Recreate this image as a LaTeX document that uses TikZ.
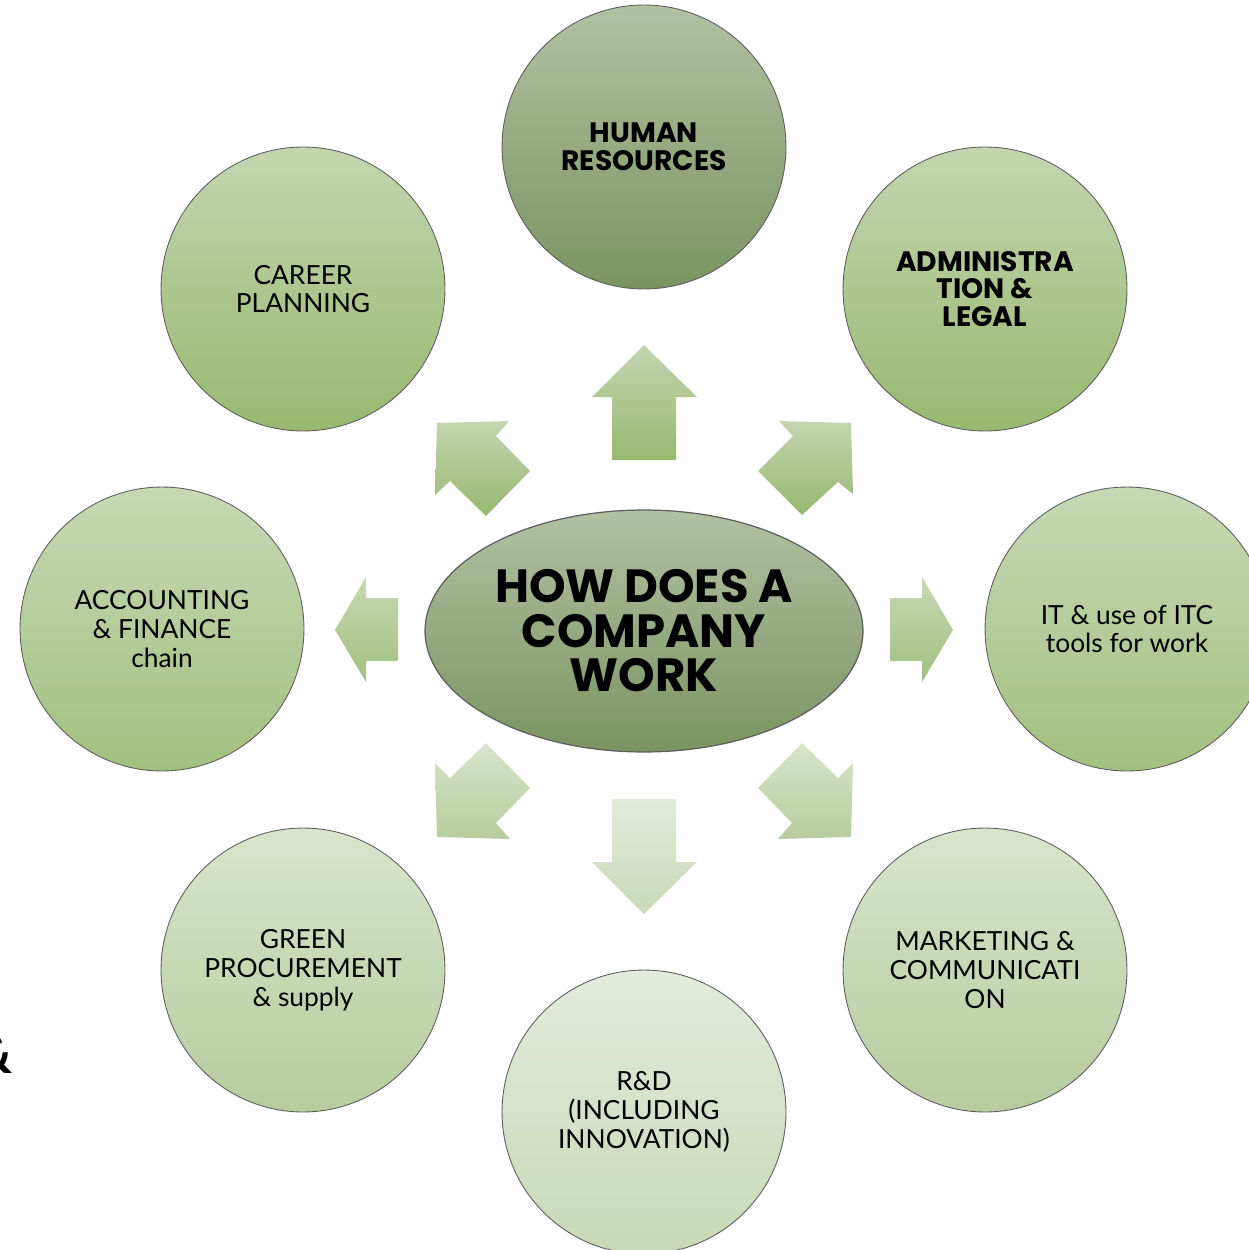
\documentclass[tikz,border=0pt]{standalone}
\usepackage{fontspec}
\setmainfont{Lato}
\newfontfamily\heavyfont{Poppins}
\usepackage{tikz}
\usetikzlibrary{shapes.geometric,positioning}

\definecolor{hrtop}{HTML}{B2C0A3}
\definecolor{hrbot}{HTML}{7A9461}
\definecolor{midtop}{HTML}{C3D5B0}
\definecolor{midbot}{HTML}{98B86F}
\definecolor{sidetop}{HTML}{C7D8B5}
\definecolor{sidebot}{HTML}{A2C07F}
\definecolor{lowtop}{HTML}{D8E4CC}
\definecolor{lowbot}{HTML}{B6CC9E}
\definecolor{rndtop}{HTML}{E3EBDB}
\definecolor{rndbot}{HTML}{C8D8B7}
\definecolor{rimgray}{HTML}{5E5E5E}

\begin{document}
\begin{tikzpicture}[x=0.02cm, y=-0.02cm,
  topic/.style = {shape = circle, draw = rimgray, line width = 0.5pt, minimum size = 5.68cm,
                  inner sep = 0pt, align = center, font = \fontsize{15}{16.4}\selectfont},
  boldtopic/.style = {topic, font = \heavyfont\fontsize{16}{15.8}\selectfont\bfseries},
  hub/.style = {shape = ellipse, draw = rimgray, line width = 0.7pt, minimum width = 8.76cm,
                minimum height = 4.84cm, inner sep = 0pt, align = center,
                font = \heavyfont\fontsize{26.5}{25.3}\selectfont\bfseries},
  flow/.style = {draw = none}]
\useasboundingbox (0,0) rectangle (1248,1250);

% the hub and the eight topics round it
\node[hub, top color = hrtop, bottom color = hrbot] (hub) at (644,631) {HOW DOES A\\COMPANY\\WORK};
\node[boldtopic, top color = hrtop, bottom color = hrbot] (hr) at (644,147) {HUMAN\\RESOURCES};
\node[boldtopic, top color = midtop, bottom color = midbot] (admin) at (985,289) {ADMINISTRA\\TION \&\\LEGAL};
\node[topic, top color = sidetop, bottom color = sidebot] (it) at (1127,629) {IT \& use of ITC\\tools for work};
\node[topic, top color = lowtop, bottom color = lowbot] (mkt) at (985,970) {MARKETING \&\\COMMUNICATI\\ON};
\node[topic, top color = rndtop, bottom color = rndbot] (rnd) at (644,1112) {R\&D\\(INCLUDING\\INNOVATION)};
\node[topic, top color = lowtop, bottom color = lowbot] (green) at (303,970) {GREEN\\PROCUREMENT\\\& supply};
\node[topic, top color = sidetop, bottom color = sidebot] (acc) at (162,629) {ACCOUNTING\\\& FINANCE\\chain};
\node[topic, top color = midtop, bottom color = midbot] (career) at (303,289) {CAREER\\PLANNING};

\node[anchor = base east, inner sep = 0pt, font = \fontsize{30}{30}\selectfont\bfseries] (stray) at (13,1073) {\&};

% block arrows
\begin{scope}[flow]
\path[top color = midtop, bottom color = midbot]
  (612,460) -- (612,397) -- (592,397) -- (644,345) -- (697,397) -- (676,397) -- (676,460) -- cycle;
\path[top color = midtop, bottom color = midbot]
  (758,471) -- (793,436) -- (779,421) -- (851,423) -- (853,494) -- (838,482) -- (802,515) -- cycle;
\path[top color = midtop, bottom color = midbot]
  (530,471) -- (496,436) -- (509,421) -- (437,423) -- (435,495) -- (450,481) -- (486,516) -- cycle;
\path[top color = sidetop, bottom color = sidebot]
  (890,598) -- (922,598) -- (922,577) -- (953,630) -- (922,682) -- (922,661) -- (890,661) -- cycle;
\path[top color = sidetop, bottom color = sidebot]
  (398,598) -- (366,598) -- (366,577) -- (335,630) -- (366,682) -- (366,661) -- (398,661) -- cycle;
\path[top color = lowtop, bottom color = lowbot]
  (530,788) -- (486,743) -- (450,778) -- (435,763) -- (437,837) -- (510,839) -- (496,823) -- cycle;
\path[top color = lowtop, bottom color = lowbot]
  (758,788) -- (802,743) -- (838,778) -- (853,763) -- (851,837) -- (778,839) -- (792,823) -- cycle;
\path[top color = rndtop, bottom color = rndbot]
  (612,799) -- (676,799) -- (676,862) -- (697,862) -- (644,914) -- (592,862) -- (612,862) -- cycle;
\end{scope}
\end{tikzpicture}
\end{document}
